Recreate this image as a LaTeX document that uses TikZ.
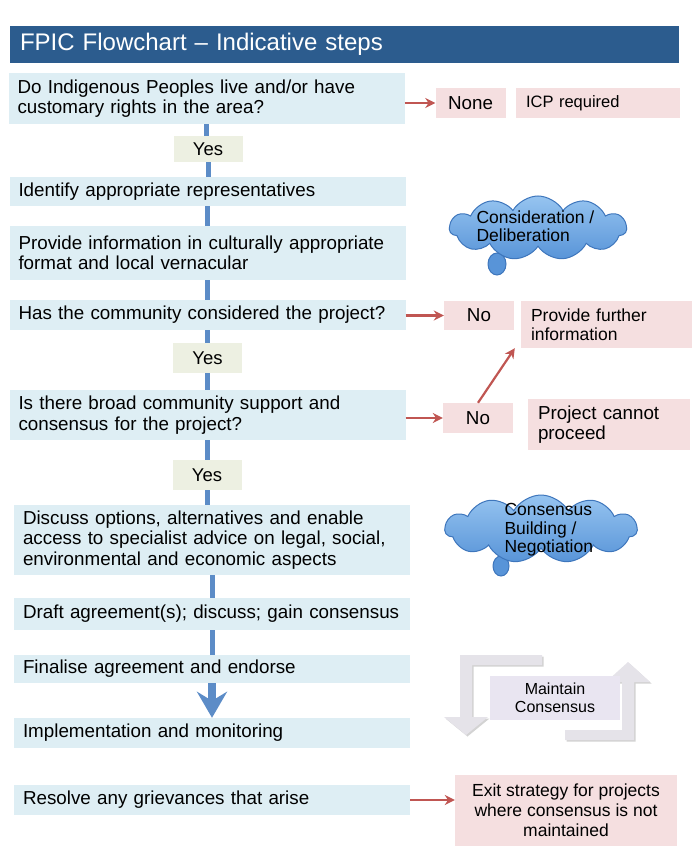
\documentclass[tikz,border=0pt]{standalone}
\usepackage{fontspec}
\setmainfont{Liberation Sans}
\usetikzlibrary{arrows.meta,shapes.symbols,shadows}

\definecolor{titleblue}{RGB}{44,92,142}
\definecolor{boxblue}{RGB}{222,238,244}
\definecolor{yesgreen}{RGB}{237,240,226}
\definecolor{sidepink}{RGB}{245,223,224}
\definecolor{arrowred}{RGB}{192,86,82}
\definecolor{spineblue}{RGB}{92,140,199}
\definecolor{cloudtop}{RGB}{150,196,240}
\definecolor{cloudbot}{RGB}{88,148,216}
\definecolor{cloudline}{RGB}{62,118,188}
\definecolor{loopgray}{RGB}{229,227,233}
\definecolor{loopbox}{RGB}{233,229,241}

\tikzset{
  mainbox/.style={fill=boxblue, align=left, text width=378pt, inner xsep=9pt,
    inner ysep=0pt, minimum height=#1, font=\fontsize{18.8}{20.5}\selectfont},
  yesbox/.style={fill=yesgreen, minimum width=69pt, minimum height=#1,
    inner sep=0pt, font=\fontsize{18.5}{20}\selectfont},
  nobox/.style={fill=sidepink, minimum width=70pt, minimum height=#1,
    inner sep=0pt, font=\fontsize{18.8}{20}\selectfont},
  sidebox/.style 2 args={fill=sidepink, align=left, text width=#1, inner xsep=10pt,
    inner ysep=0pt, minimum height=#2, font=\fontsize{17.5}{19}\selectfont},
  spine/.style={draw=spineblue, line width=5pt},
  redarrow/.style={draw=arrowred, line width=2.2pt, -{Stealth[length=10pt,width=10pt]}},
  thought/.style={cloud, cloud puffs=11, cloud puff arc=120, cloud ignores aspect,
    top color=cloudtop, bottom color=cloudbot, draw=cloudline, line width=1pt, inner sep=0pt},
  thoughttail/.style={fill=cloudbot, draw=cloudline, line width=1pt},
  thoughttext/.style={anchor=west, align=left, font=\fontsize{17.5}{18.5}\selectfont},
  loopshape/.style={fill=loopgray, drop shadow={opacity=0.35, shadow xshift=1.5pt, shadow yshift=-1.5pt}}
}

\begin{document}
\begin{tikzpicture}[x=1pt, y=-1pt]
  \useasboundingbox (0,0) rectangle (693,866);

  % heading bar
  \node[fill=titleblue, minimum width=669pt, minimum height=37pt, text width=649pt,
    inner xsep=10pt, align=left, text=white, font=\fontsize{24}{28}\selectfont]
    (title) at (344.5,44.5) {FPIC Flowchart – Indicative steps};

  % main column
  \node[mainbox=51pt] (q1) at (206.5,98.5) {Do Indigenous Peoples live and/or have\\customary rights in the area?};
  \node[yesbox=26pt] (yes1) at (208,149) {Yes};
  \node[mainbox=29pt] (reps) at (207.5,191.5) {Identify appropriate representatives};
  \node[mainbox=54pt] (info) at (207.5,253) {Provide information in culturally appropriate\\format and local vernacular};
  \node[mainbox=30pt] (has) at (207.5,315) {Has the community considered the project?};
  \node[yesbox=30pt] (yes2) at (207.5,358) {Yes};
  \node[mainbox=50pt] (broad) at (207.5,415) {Is there broad community support and\\consensus for the project?};
  \node[yesbox=30pt] (yes3) at (207,475) {Yes};
  \node[mainbox=70pt] (discuss) at (212,540) {Discuss options, alternatives and enable\\access to specialist advice on legal, social,\\environmental and economic aspects};
  \node[mainbox=32pt] (draft) at (212,614) {Draft agreement(s); discuss; gain consensus};
  \node[mainbox=28pt] (final) at (212,669) {Finalise agreement and endorse};
  \node[mainbox=30pt] (impl) at (212,733) {Implementation and monitoring};
  \node[mainbox=30pt] (resolve) at (212,800) {Resolve any grievances that arise};

  % side boxes
  \node[nobox=30pt] (none) at (470.5,103) {None};
  \node[sidebox={144pt}{30pt}, font=\fontsize{16.5}{18}\selectfont] (icp) at (598,103) {ICP required};
  \node[nobox=29pt] (no1) at (479,315.5) {No};
  \node[sidebox={151pt}{47pt}] (further) at (606.5,324.5) {Provide further\\information};
  \node[nobox=30pt] (no2) at (478,418) {No};
  \node[sidebox={142pt}{51pt}, font=\fontsize{18.8}{20}\selectfont] (cannot) at (609,424.5) {Project cannot\\proceed};
  \node[fill=sidepink, minimum width=222pt, minimum height=71pt, inner sep=0pt, align=center,
    font=\fontsize{17.5}{20}\selectfont] (exit) at (566,810.5) {Exit strategy for projects\\where consensus is not\\maintained};

  % thought clouds
  \draw[thoughttail] (497,264) ellipse [x radius=9, y radius=11];
  \node[thought, minimum width=177pt, minimum height=64pt] (think1) at (538,228) {};
  \node[thoughttext] (think1txt) at (473,226) {Consideration /\\Deliberation};
  \draw[thoughttail] (501,566) ellipse [x radius=8, y radius=10];
  \node[thought, minimum width=192pt, minimum height=68pt] (think2) at (541,529) {};
  \node[thoughttext] (think2txt) at (501,530) {Consensus\\Building /\\Negotiation};

  % maintain consensus loop
  \fill[loopshape] (542,655) -- (460,655) -- (460,717) -- (444,717) -- (466,735)
    -- (488,717) -- (472,717) -- (472,665) -- (542,665) -- cycle;
  \fill[loopshape] (565,730) -- (622,730) -- (622,682) -- (606,682) -- (628,662)
    -- (650,682) -- (634,682) -- (634,740) -- (565,740) -- cycle;
  \node[fill=loopbox, minimum width=130pt, minimum height=44pt, inner sep=0pt, align=center,
    font=\fontsize{16}{18}\selectfont] (keep) at (555,698) {Maintain\\Consensus};

  % blue spine
  \foreach \a/\b in {q1/yes1, yes1/reps, reps/info, info/has, has/yes2, yes2/broad,
                     broad/yes3, yes3/discuss, discuss/draft, draft/final}
    \draw[spine] (\a.south) -- (\a.south |- \b.north);
  \draw[spineblue, line width=8pt, -{Stealth[length=26pt,width=30pt,inset=9pt]}]
    (final.south) -- (impl.north);

  % red branches
  \draw[redarrow] (none.west -| q1.east) -- (none.west);
  \draw[redarrow] (no1.west -| has.east) -- (no1.west);
  \draw[redarrow] (no2.west -| broad.east) -- (no2.west);
  \draw[redarrow] (no2.north) -- ([xshift=-6pt]further.south west);
  \draw[redarrow] (resolve.east) -- (resolve.east -| exit.west);
\end{tikzpicture}
\end{document}
